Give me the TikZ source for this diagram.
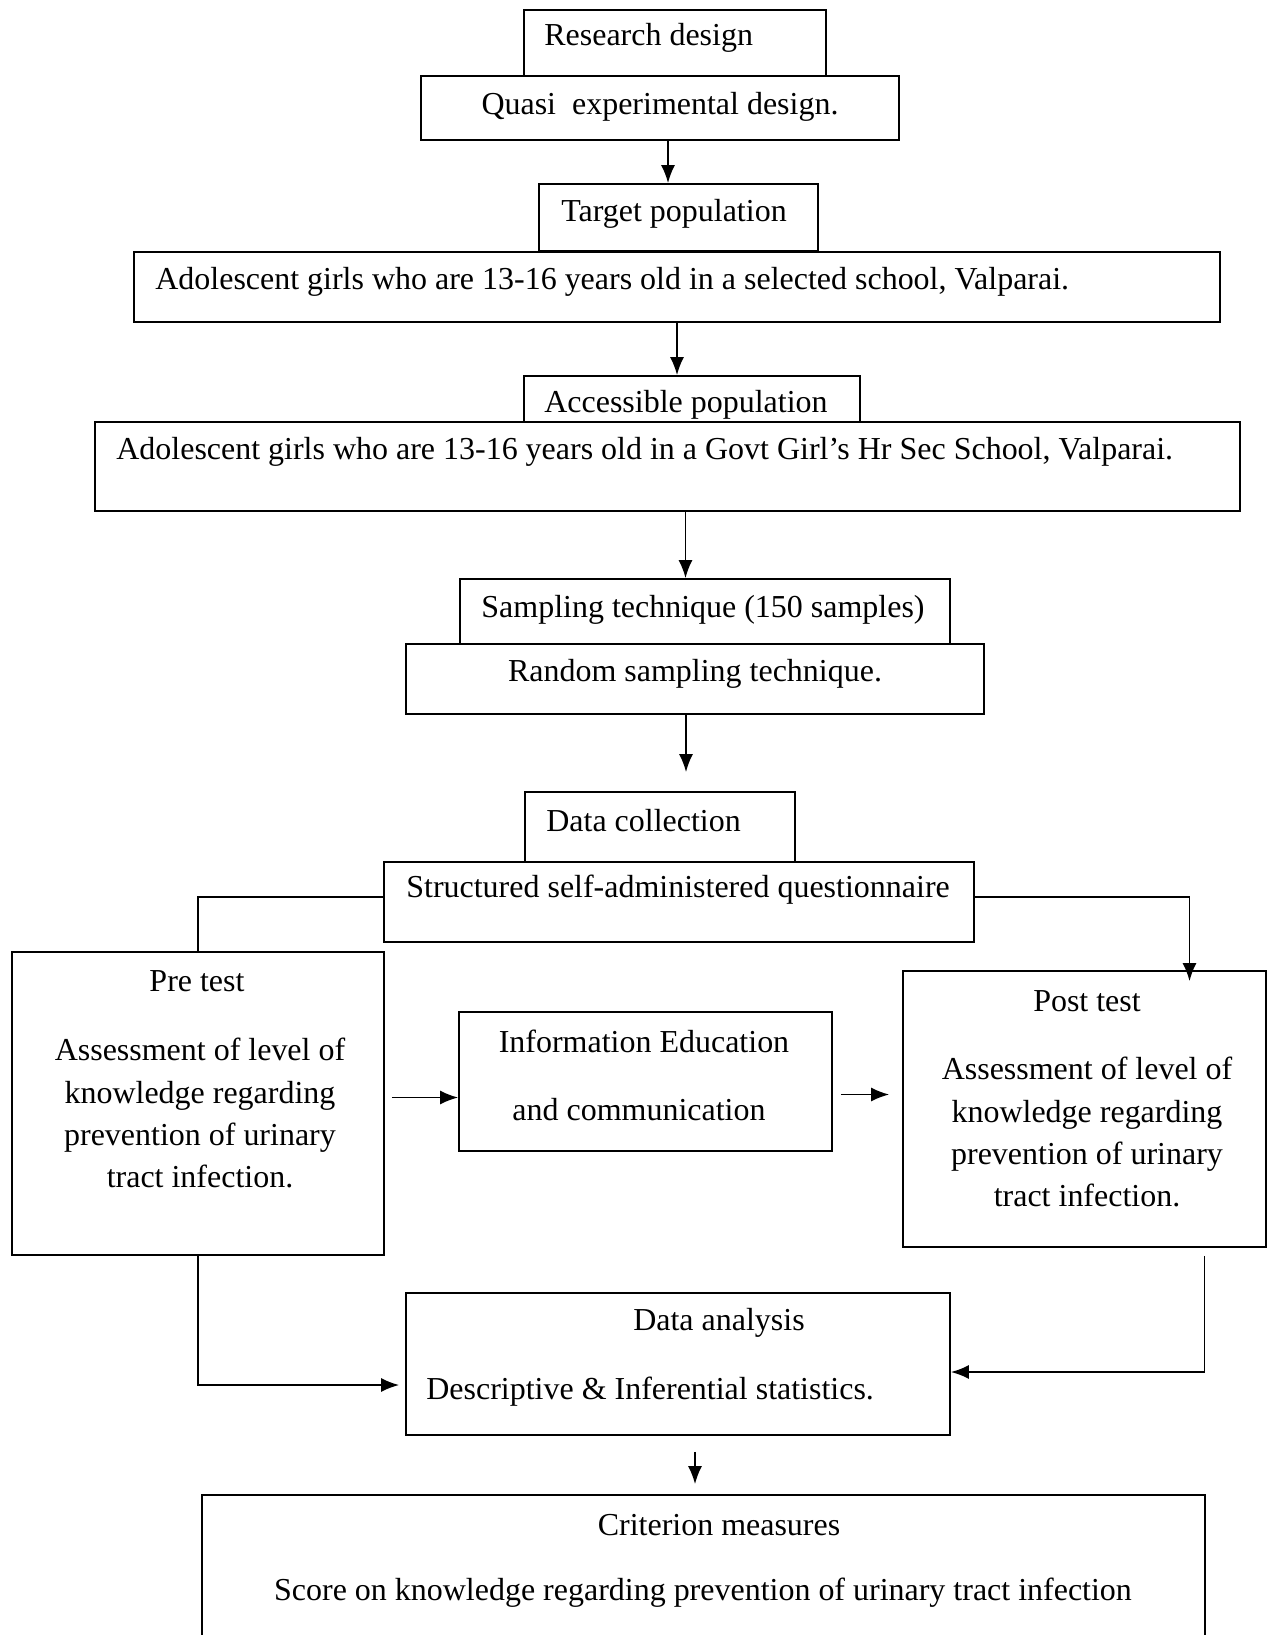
\documentclass[tikz,border=0pt]{standalone}
\usepackage{fontspec}
\setmainfont{Liberation Serif}
\usepackage{tikz}
\usetikzlibrary{arrows.meta, calc, fit}

\tikzset{
  box/.style={draw, line width=1pt, inner sep=0pt},
  txt/.style={inner sep=0pt, align=center},
  flow/.style={line width=1pt, -{Latex[length=0.36cm, width=0.28cm]}},
  link/.style={line width=1pt},
}

\begin{document}
\begin{tikzpicture}[x=0.02cm, y=-0.02cm,
    font=\fontsize{18.2}{24}\selectfont]
  \clip (0,0) rectangle (1271,1635);

  % ----- boxes -----
  \node[box, fit={(524,10) (826,76)}]     (rd)   {};
  \node[box, fit={(421,76) (899,140)}]    (qd)   {};
  \node[box, fit={(539,184) (818,251)}]   (tp)   {};
  \node[box, fit={(134,252) (1220,322)}]  (ad1)  {};
  \node[box, fit={(524,376) (860,422)}]   (ap)   {};
  \node[box, fit={(95,422) (1240,511)}]   (ad2)  {};
  \node[box, fit={(460,579) (950,644)}]   (st)   {};
  \node[box, fit={(406,644) (984,714)}]   (rs)   {};
  \node[box, fit={(525,792) (795,862)}]   (dc)   {};
  \node[box, fit={(384,862) (974,942)}]   (sq)   {};
  \node[box, fit={(12,952) (384,1255)}]   (pre)  {};
  \node[box, fit={(459,1012) (832,1151)}] (iec)  {};
  \node[box, fit={(903,971) (1266,1247)}] (post) {};
  \node[box, fit={(406,1293) (950,1435)}] (da)   {};
  \node[box, fit={(202,1495) (1205,1700)}] (cm)  {};

  % ----- texts -----
  \node[txt, anchor=west] (rd-t)  at (544,38)  {Research design};
  \node[txt]              (qd-t)  at (660,107) {Quasi\ \ experimental design.};
  \node[txt]              (tp-t)  at (674,214) {Target population};
  \node[txt, anchor=west] (ad1-t) at (155,282)
        {Adolescent girls who are 13-16 years old in a selected school, Valparai.};
  \node[txt, anchor=west] (ap-t)  at (544,405) {Accessible population};
  \node[txt, anchor=west] (ad2-t) at (116,452)
        {Adolescent girls who are 13-16 years old in a Govt Girl’s Hr Sec School, Valparai.};
  \node[txt]              (st-t)  at (703,610) {Sampling technique (150 samples)};
  \node[txt]              (rs-t)  at (695,674) {Random sampling technique.};
  \node[txt, anchor=west] (dc-t)  at (546,821) {Data collection};
  \node[txt, anchor=west] (sq-t)  at (406,890) {Structured self-administered questionnaire};
  \node[txt]              (pre-t) at (197,981) {Pre test};
  \node[txt, anchor=north] (pre-b) at (200,1038)
        {Assessment of level of\\ knowledge regarding\\ prevention of urinary\\ tract infection.};
  \node[txt]              (iec-t) at (644,1041) {Information Education};
  \node[txt]              (iec-b) at (639,1110) {and communication};
  \node[txt]              (post-t) at (1087,1001) {Post test};
  \node[txt, anchor=north] (post-b) at (1087,1057)
        {Assessment of level of\\ knowledge regarding\\ prevention of urinary\\ tract infection.};
  \node[txt]              (da-t)  at (719,1323) {Data analysis};
  \node[txt, anchor=west] (da-b)  at (426,1392) {Descriptive \& Inferential statistics.};
  \node[txt]              (cm-t)  at (719,1525) {Criterion measures};
  \node[txt]              (cm-b)  at (703,1593)
        {Score on knowledge regarding prevention of urinary tract infection};

  % ----- connectors -----
  \coordinate (a1) at ($(qd.south)+(8,0)$);
  \draw[flow] (a1) -- (a1 |- tp.north);
  \draw[flow] (ad1.south) -- (ad1.south |- ap.north);
  \coordinate (a3) at ($(ad2.south)+(18,0)$);
  \draw[flow] (a3) -- (a3 |- st.north);
  \coordinate (a4) at ($(rs.south)+(-9,0)$);
  \draw[flow] (a4) -- ($(a4 |- dc.north)+(0,-19)$);
  \coordinate (a5) at ($(sq.west)+(0,-5)$);
  \draw[link] (a5) -| (pre.north);
  \coordinate (a6) at ($(post.north)+(105,11)$);
  \draw[flow] ($(sq.east)+(0,-5)$) -| (a6);
  \coordinate (a7) at ($(iec.west)+(0,16)$);
  \draw[flow] ($(pre.east |- a7)+(7,0)$) -- (a7);
  \coordinate (a8) at ($(iec.east)+(8,13)$);
  \draw[flow] (a8) -- ($(a8 -| post.west)+(-13,0)$);
  \draw[flow] (pre.south) |- ($(da.west)+(-6,21)$);
  \coordinate (a10) at ($(post.south)+(120,8)$);
  \draw[flow] (a10) |- ($(da.east)+(0,8)$);
  \coordinate (a11) at ($(da.south)+(17,16)$);
  \draw[flow] (a11) -- ($(a11 |- cm.north)+(0,-10)$);
\end{tikzpicture}
\end{document}
